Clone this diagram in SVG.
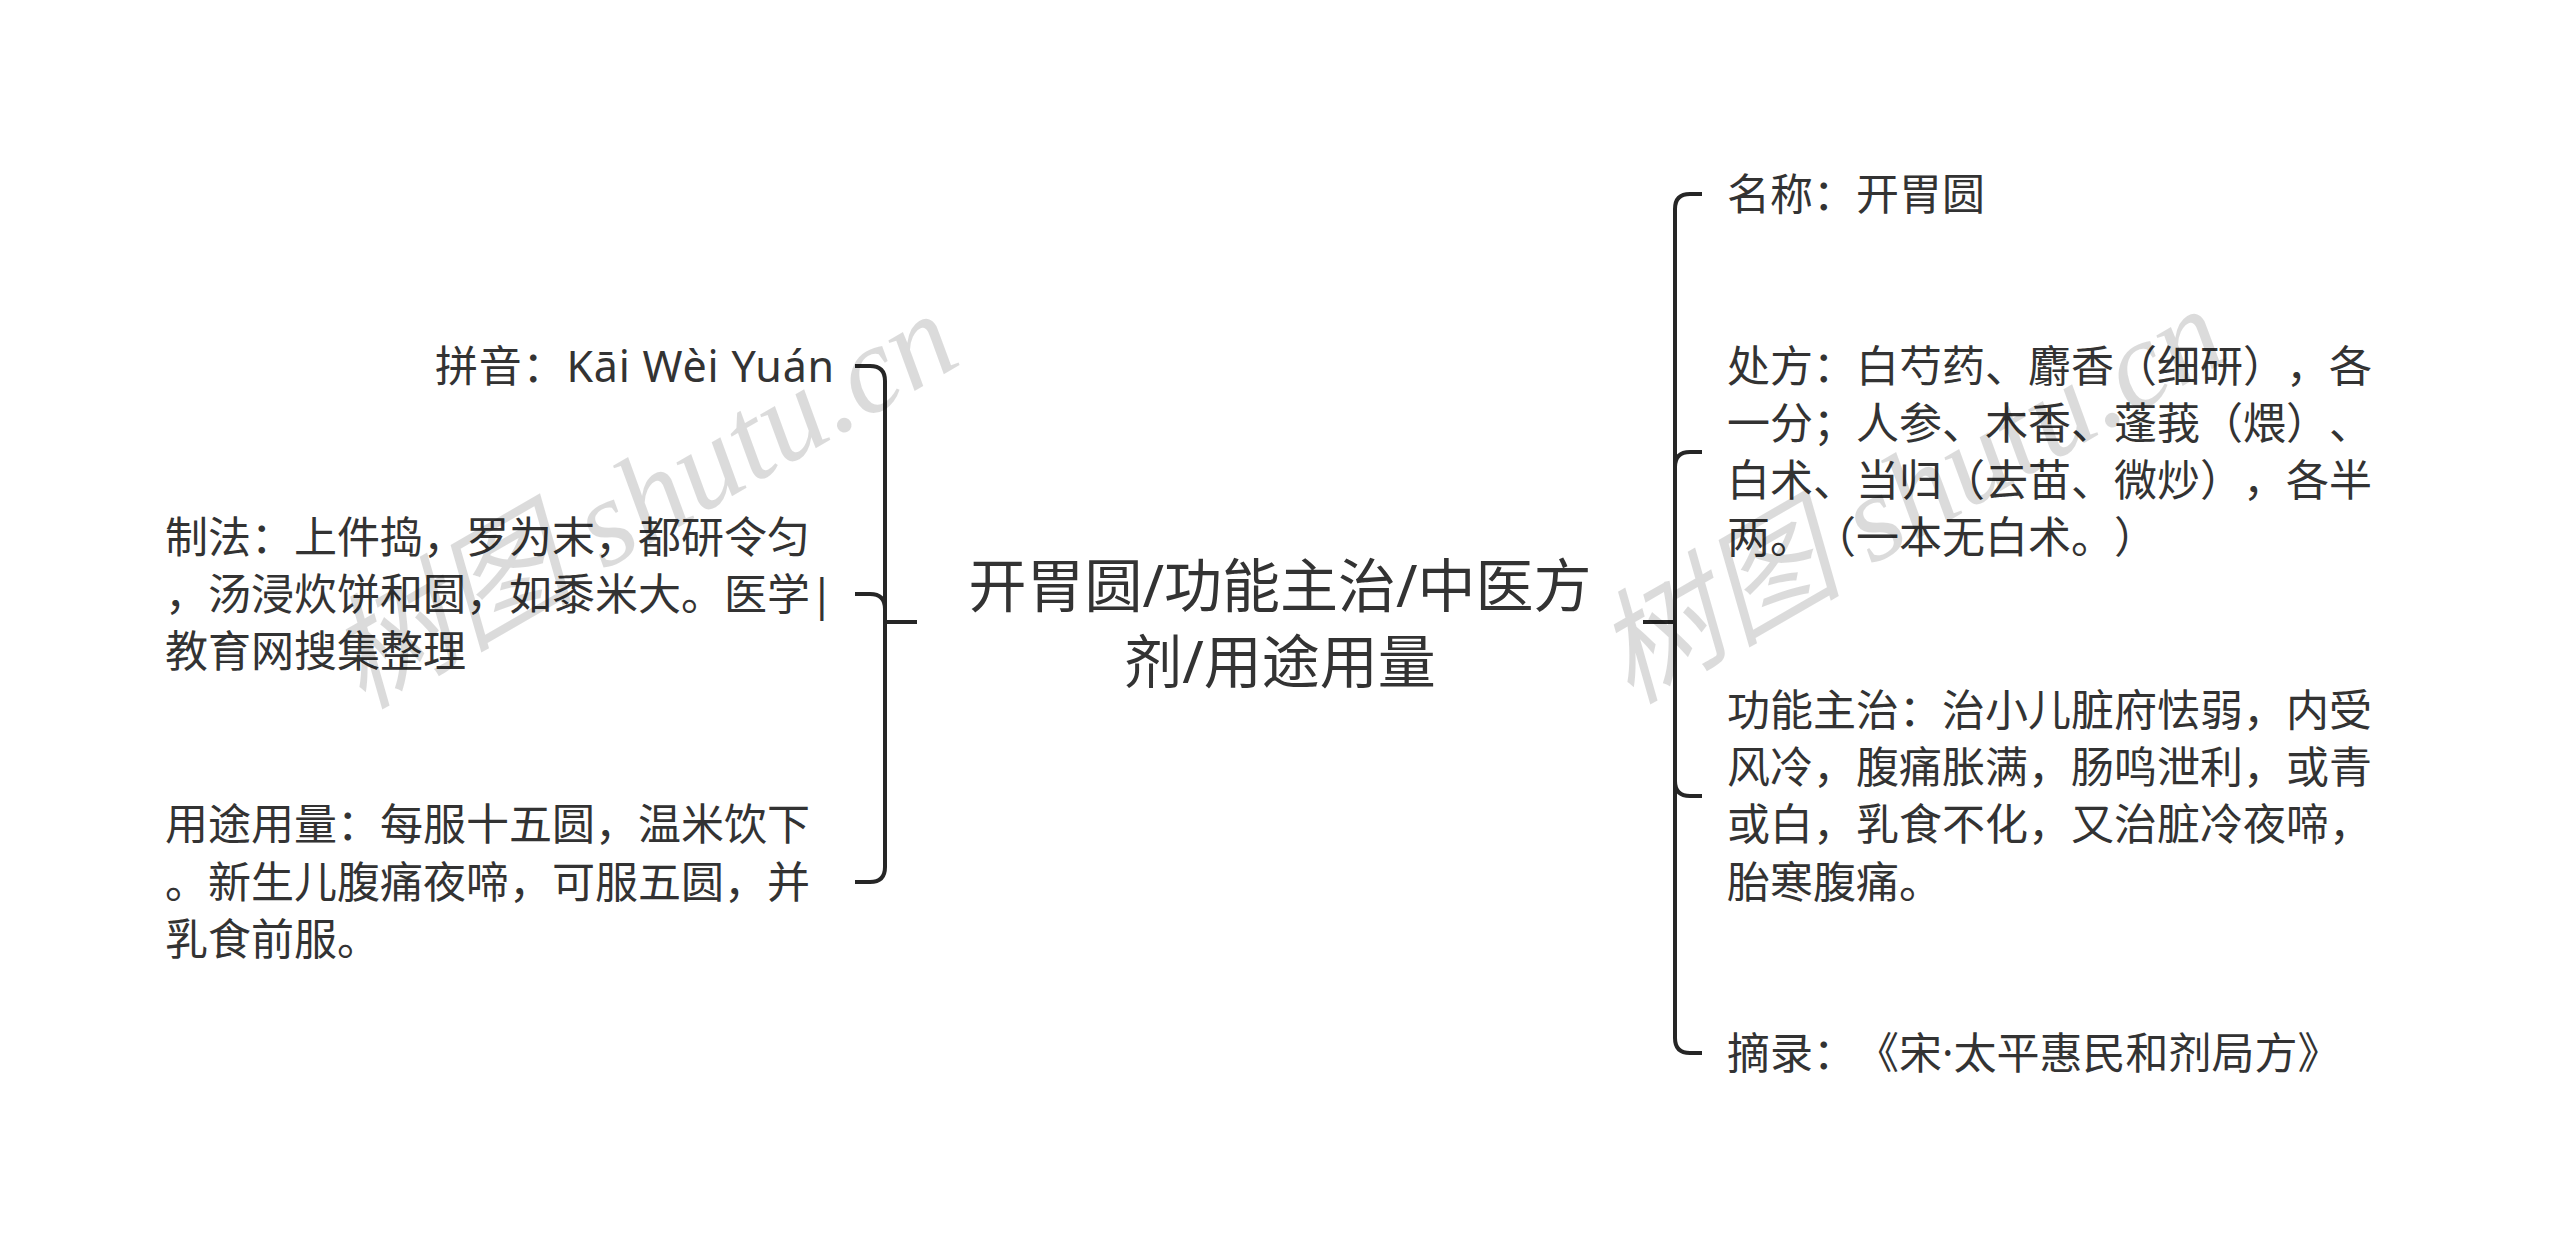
<svg xmlns="http://www.w3.org/2000/svg" width="2560" height="1247" viewBox="0 0 2560 1247">
<style>
.t{font-family:"Noto Sans","Noto Sans CJK SC",sans-serif;font-size:43px;fill:#333333;text-spacing-trim:space-all;font-feature-settings:"chws" 0,"halt" 0}
.c{font-family:"Noto Sans","Noto Sans CJK SC",sans-serif;font-size:58px;fill:#333333;text-spacing-trim:space-all;font-feature-settings:"chws" 0,"halt" 0}
.ln{fill:none;stroke:#262626;stroke-width:4;stroke-linecap:butt}
.wm{font-family:"Liberation Serif","Noto Sans CJK SC",serif;font-style:italic;font-size:124px;fill:#000;fill-opacity:0.14}
</style>
<rect width="2560" height="1247" fill="#ffffff"/>
<g id="connectors">
<path class="ln" d="M855,366 H870 Q885,366 885,381 V867 Q885,882 870,882 H855"/>
<path class="ln" d="M855,594 H870 Q885,594 885,609"/>
<path class="ln" d="M885,622 H917"/>
<path class="ln" d="M1702,194 H1690 Q1675,194 1675,209 V1038 Q1675,1053 1690,1053 H1702"/>
<path class="ln" d="M1702,452 H1690 Q1675,452 1675,467"/>
<path class="ln" d="M1702,796 H1690 Q1675,796 1675,781"/>
<path class="ln" d="M1643,622 H1675"/>
</g>
<g id="center">
<text class="c" x="1280" y="607" text-anchor="middle">开胃圆/功能主治/中医方</text>
<text class="c" x="1280" y="683" text-anchor="middle">剂/用途用量</text>
</g>
<g id="pinyin">
<text class="t" x="835" y="382" text-anchor="end" letter-spacing="0.8">拼音：Kāi Wèi Yuán</text>
</g>
<g id="zhifa">
<text class="t" x="165" y="553">制法：上件捣，罗为末，都研令匀</text>
<text class="t" x="165" y="610">，汤浸炊饼和圆，如黍米大。医学|</text>
<text class="t" x="165" y="667">教育网搜集整理</text>
</g>
<g id="yongtu">
<text class="t" x="165" y="840">用途用量：每服十五圆，温米饮下</text>
<text class="t" x="165" y="898">。新生儿腹痛夜啼，可服五圆，并</text>
<text class="t" x="165" y="955">乳食前服。</text>
</g>
<g id="mingcheng">
<text class="t" x="1727" y="210">名称：开胃圆</text>
</g>
<g id="chufang">
<text class="t" x="1727" y="382">处方：白芍药、麝香（细研），各</text>
<text class="t" x="1727" y="439">一分；人参、木香、蓬莪（煨）、</text>
<text class="t" x="1727" y="496">白术、当归（去苗、微炒），各半</text>
<text class="t" x="1727" y="553">两。（一本无白术。）</text>
</g>
<g id="gongneng">
<text class="t" x="1727" y="726">功能主治：治小儿脏府怯弱，内受</text>
<text class="t" x="1727" y="783">风冷，腹痛胀满，肠鸣泄利，或青</text>
<text class="t" x="1727" y="840">或白，乳食不化，又治脏冷夜啼，</text>
<text class="t" x="1727" y="898">胎寒腹痛。</text>
</g>
<g id="zhailu">
<text class="t" x="1727" y="1069">摘录：《宋·太平惠民和剂局方》</text>
</g>
<g id="watermark">
<text class="wm" transform="translate(362,710) rotate(-30)">树图 shutu.cn</text>
<text class="wm" transform="translate(1630,705) rotate(-30)">树图 shutu.cn</text>
</g>
</svg>
